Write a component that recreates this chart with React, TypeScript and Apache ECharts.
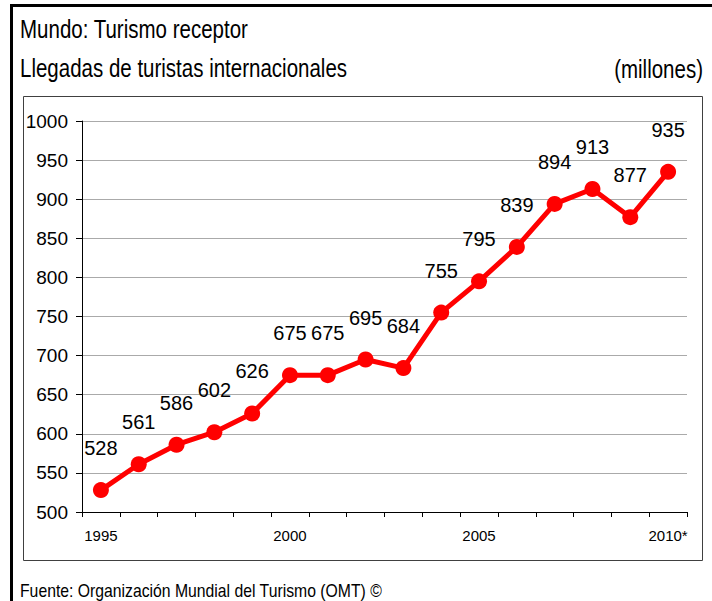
import React, { useEffect, useRef } from "react";
import * as echarts from "echarts";

const years = ["1995","1996","1997","1998","1999","2000","2001","2002","2003","2004","2005","2006","2007","2008","2009","2010*"];
const arrivals = [528, 561, 586, 602, 626, 675, 675, 695, 684, 755, 795, 839, 894, 913, 877, 935];
const shownYearLabels = ["1995", "2000", "2005", "2010*"];
const titleText = "Mundo: Turismo receptor";
const subtitleText = "Llegadas de turistas internacionales";
const unitText = "(millones)";
const sourceText = "Fuente: Organización Mundial del Turismo (OMT) ©";

const FONT = '"Liberation Sans", Arial, sans-serif';

export default function App() {
  const ref = useRef<HTMLDivElement>(null);
  useEffect(() => {
    if (!ref.current) return;
    const chart = echarts.init(ref.current, null, { renderer: "svg" });
    const txt = (text: string, x: number, y: number, size: number, sx: number, align = "left") => ({
      type: "text",
      x,
      y,
      scaleX: sx,
      silent: true,
      style: { text, fontFamily: FONT, fontSize: size, fill: "#000", textAlign: align, textVerticalAlign: "middle" },
    });
    chart.setOption({
      animation: false,
      backgroundColor: "#ffffff",
      grid: { left: 82, right: 25, top: 121, bottom: 89 },
      xAxis: {
        type: "category",
        data: years,
        boundaryGap: true,
        axisLine: { show: true, lineStyle: { color: "#000", width: 1 } },
        axisTick: { show: true, interval: 0, length: 5, lineStyle: { color: "#000" } },
        axisLabel: {
          interval: 0,
          margin: 16,
          fontFamily: FONT,
          fontSize: 15,
          color: "#000",
          formatter: (v: string) => (shownYearLabels.includes(v) ? v : ""),
        },
        splitLine: { show: false },
      },
      yAxis: {
        type: "value",
        min: 500,
        max: 1000,
        interval: 50,
        axisLine: { show: true, lineStyle: { color: "#000", width: 1 } },
        axisTick: { show: true, length: 6, lineStyle: { color: "#000" } },
        axisLabel: { margin: 14, fontFamily: FONT, fontSize: 19, color: "#000", formatter: (v: number) => String(v) },
        splitLine: { show: true, lineStyle: { color: "#aaaaaa", width: 1.2 } },
      },
      series: [
        {
          type: "line",
          data: arrivals,
          symbol: "circle",
          symbolSize: 16,
          lineStyle: { color: "#ff0000", width: 5 },
          itemStyle: { color: "#ff0000" },
          label: {
            show: true,
            position: "top",
            distance: 24,
            fontFamily: FONT,
            fontSize: 20,
            color: "#000",
          },
        },
      ],
      graphic: [
        { type: "rect", shape: { x: 10, y: 4, width: 702, height: 3 }, style: { fill: "#000" }, silent: true },
        { type: "rect", shape: { x: 10, y: 4, width: 3, height: 597 }, style: { fill: "#000" }, silent: true },
        { type: "rect", shape: { x: 23.5, y: 96.5, width: 679, height: 464 }, style: { fill: "none", stroke: "#404040", lineWidth: 1 }, silent: true },
        txt(titleText, 20, 29, 25, 0.82),
        txt(subtitleText, 20, 68, 25, 0.82),
        txt(unitText, 703, 69, 25, 0.82, "right"),
        txt(sourceText, 20, 590, 19, 0.83),
      ],
    });
    return () => chart.dispose();
  }, []);
  return (
    <div
      ref={ref}
      style={{ position: "absolute", left: 0, top: 0, width: 712, height: 601 }}
    />
  );
}
